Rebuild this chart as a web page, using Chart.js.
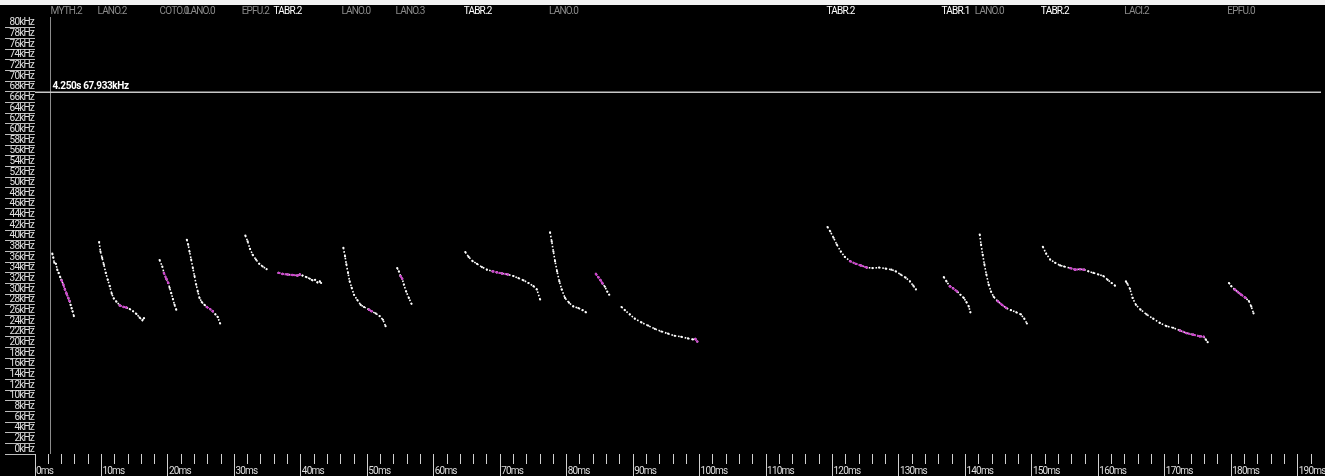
<!DOCTYPE html>
<html lang="en">
<head>
    <meta charset="UTF-8">
    <title>Bat call sequence</title>
    <script src="https://cdn.jsdelivr.net/npm/chart.js"></script>
    <style>
        html, body { margin: 0; padding: 0; background: #000; overflow: hidden; }
        #wrap { width: 1325px; height: 476px; }
    </style>
</head>
<body>
<div id="wrap"><canvas id="callChart"></canvas></div>
<script>
    // each call: time (ms) and frequency (kHz)
    const t1 = [2.6, 2.75, 2.9, 3.15, 3.35, 3.55, 3.8, 4.0, 4.25, 4.5, 4.75, 5.0, 5.2, 5.35, 5.5, 5.65, 5.85];
    const f1 = [37.6, 36.9, 35.9, 35.7, 34.6, 34.0, 33.2, 32.6, 31.8, 30.9, 30.1, 29.3, 28.7, 28.0, 27.4, 26.8, 25.9];
    const t2 = [9.65, 9.85, 10.1, 10.35, 10.65, 10.95, 11.25, 11.55, 11.85, 12.25, 12.75, 13.35, 13.75, 14.25, 14.75, 15.25, 15.75, 16.15, 16.4];
    const f2 = [39.8, 38.0, 36.8, 35.6, 34.0, 32.7, 31.5, 30.1, 29.2, 28.6, 27.9, 27.6, 27.5, 27.2, 26.8, 26.3, 25.6, 25.1, 25.5];
    const t3 = [18.75, 19.15, 19.4, 19.75, 20.05, 20.25, 20.5, 20.75, 21.0, 21.25];
    const f3 = [36.4, 35.2, 34.0, 32.9, 32.1, 31.2, 30.2, 29.1, 28.0, 27.1];
    const t4 = [22.85, 23.05, 23.25, 23.5, 23.75, 24.0, 24.25, 24.5, 24.75, 25.1, 25.5, 25.85, 26.35, 26.75, 27.15, 27.5, 27.85];
    const f4 = [40.2, 39.3, 38.0, 36.5, 34.9, 33.4, 31.8, 30.5, 29.3, 28.5, 28.0, 27.6, 27.2, 26.8, 26.2, 25.7, 24.5];
    const t5 = [31.65, 32.0, 32.35, 32.75, 33.25, 33.75, 34.25, 34.85];
    const f5 = [41.0, 39.9, 38.5, 37.4, 36.5, 35.7, 35.2, 34.7];
    const t6 = [36.65, 37.25, 38.0, 38.75, 39.5, 39.85, 40.25, 40.85, 41.35, 41.75, 42.15, 42.5, 42.85, 43.05];
    const f6 = [34.0, 33.8, 33.7, 33.6, 33.5, 33.7, 33.5, 33.2, 32.9, 32.6, 32.7, 32.2, 32.4, 32.1];
    const t7 = [46.4, 46.65, 46.85, 47.1, 47.35, 47.65, 48.0, 48.5, 49.0, 49.5, 50.25, 50.65, 51.25, 51.85, 52.35, 52.75];
    const f7 = [38.7, 37.1, 35.6, 34.0, 32.4, 31.2, 29.9, 28.9, 28.0, 27.6, 27.1, 26.8, 26.4, 25.9, 25.2, 24.0];
    const t8 = [54.5, 54.75, 55.0, 55.25, 55.5, 55.85, 56.25, 56.65];
    const f8 = [34.9, 34.3, 33.4, 32.9, 31.8, 30.5, 29.3, 28.2];
    const t9 = [64.75, 65.25, 65.85, 66.5, 67.25, 68.0, 68.85, 69.5, 70.25, 71.15, 72.0, 72.75, 73.5, 74.25, 75.0, 75.5, 76.0];
    const f9 = [37.9, 37.0, 36.2, 35.7, 35.1, 34.6, 34.3, 34.1, 33.9, 33.7, 33.4, 33.0, 32.6, 32.1, 31.5, 30.9, 29.0];
    const t10 = [77.5, 77.75, 78.0, 78.25, 78.55, 78.9, 79.25, 79.75, 80.35, 81.0, 81.75, 82.4, 82.9];
    const f10 = [41.6, 39.9, 38.0, 36.2, 34.3, 32.4, 30.9, 29.3, 28.4, 27.7, 27.4, 27.0, 26.6];
    const t11 = [84.4, 84.75, 85.1, 85.4, 85.75, 86.1, 86.4];
    const f11 = [33.8, 33.2, 32.6, 32.0, 31.4, 30.5, 29.9];
    const t12 = [88.25, 88.75, 89.5, 90.25, 91.25, 92.25, 93.25, 94.25, 95.25, 96.25, 97.25, 98.25, 99.0, 99.35, 99.65];
    const f12 = [27.6, 27.0, 26.2, 25.4, 24.7, 24.1, 23.5, 23.0, 22.6, 22.2, 22.0, 21.7, 21.5, 21.6, 21.1];
    const t13 = [119.25, 119.65, 120.15, 120.65, 121.25, 121.85, 122.65, 123.5, 124.25, 125.15, 126.0, 127.0, 128.0, 128.85, 129.5, 130.25, 131.0, 131.65, 132.15, 132.55];
    const f13 = [42.6, 41.8, 40.6, 39.3, 38.0, 37.0, 36.2, 35.7, 35.4, 35.0, 34.9, 35.0, 34.8, 34.6, 34.3, 33.7, 33.1, 32.4, 31.6, 30.9];
    const t14 = [136.75, 137.15, 137.65, 138.15, 138.75, 139.25, 139.75, 140.15, 140.5, 140.75];
    const f14 = [33.2, 32.4, 31.5, 31.1, 30.5, 29.9, 29.3, 28.5, 27.7, 26.6];
    const t15 = [142.15, 142.35, 142.6, 142.85, 143.15, 143.5, 143.85, 144.25, 144.85, 145.5, 146.15, 146.85, 147.65, 148.35, 148.85, 149.25];
    const f15 = [41.2, 39.3, 37.4, 35.6, 33.7, 31.8, 30.5, 29.5, 28.7, 28.0, 27.4, 27.0, 26.6, 26.2, 25.4, 24.5];
    const t16 = [151.65, 152.15, 152.75, 153.5, 154.25, 154.85, 155.75, 156.5, 157.25, 157.85, 158.5, 159.25, 160.0, 160.75, 161.4, 162.0, 162.5];
    const f16 = [38.9, 37.6, 36.5, 35.9, 35.4, 35.2, 34.9, 34.6, 34.7, 34.6, 34.3, 34.0, 33.7, 33.4, 32.7, 32.1, 31.6];
    const t17 = [164.15, 164.35, 164.75, 165.15, 165.65, 166.35, 167.25, 168.25, 169.25, 170.25, 171.25, 172.25, 173.25, 174.25, 175.25, 175.85, 176.15, 176.45];
    const f17 = [32.4, 32.0, 31.0, 29.3, 28.0, 27.1, 26.2, 25.4, 24.6, 24.0, 23.7, 23.2, 22.7, 22.4, 22.1, 22.0, 21.5, 21.0];
    const t18 = [179.65, 180.0, 180.5, 181.0, 181.5, 182.15, 182.65, 183.0, 183.35];
    const f18 = [32.1, 31.5, 30.9, 30.4, 29.9, 29.3, 28.7, 27.7, 26.4];

    // index range of each call that is highlighted (null = none)
    const highlight = [[7, 12], [10, 12], [2, 4], [11, 13], null, [0, 5], [10, 11], [2, 3], [6, 9],
                       null, [0, 3], [13, 14], [6, 9], [2, 4], [8, 10], [6, 9], [11, 15], [2, 5]];

    // species labels along the top
    const labelTimes = [2.35, 9.4, 18.75, 22.7, 31.1, 35.9, 46.1, 54.25, 64.5, 77.35, 119.1, 136.4, 141.4, 151.35, 163.9, 179.4];
    const labelNames = ['MYTH.2', 'LANO.2', 'COTO.0', 'LANO.0', 'EPFU.2', 'TABR.2', 'LANO.0', 'LANO.3', 'TABR.2', 'LANO.0',
                        'TABR.2', 'TABR.1', 'LANO.0', 'TABR.2', 'LACI.2', 'EPFU.0'];

    // cursor readout
    const cursorKHz = 67.933;
    const cursorText = '4.250s 67.933kHz';
    const axisLineMs = 2.25;

    const calls = [[t1, f1], [t2, f2], [t3, f3], [t4, f4], [t5, f5], [t6, f6], [t7, f7], [t8, f8], [t9, f9],
                   [t10, f10], [t11, f11], [t12, f12], [t13, f13], [t14, f14], [t15, f15], [t16, f16], [t17, f17], [t18, f18]];

    const FONT = 'Roboto';
    const datasets = [];
    calls.forEach(([ts, fs], i) => {
        const pts = ts.map((t, j) => ({ x: t, y: fs[j] }));
        datasets.push({
            data: pts, order: 2, showLine: true,
            borderColor: '#ffffff', borderWidth: 1.6, borderDash: [1.6, 1.8],
            pointRadius: 1.1, pointBackgroundColor: '#ffffff', pointBorderWidth: 0
        });
        const span = highlight[i];
        if (span) {
            datasets.push({
                data: pts.slice(span[0], span[1] + 1), order: 1, showLine: true,
                borderColor: '#cc44cc', borderWidth: 2, borderDash: [2, 1],
                pointRadius: 1.2, pointBackgroundColor: '#cc44cc', pointBorderWidth: 0
            });
        }
    });

    const overlay = {
        id: 'overlay',
        beforeDraw(chart) {
            const { ctx, width, height } = chart;
            ctx.save();
            ctx.fillStyle = '#000';
            ctx.fillRect(0, 0, width, height);
            ctx.fillStyle = '#f2f2f2';
            ctx.fillRect(0, 0, width, 5);
            ctx.restore();
            // the sonogram font is narrow, tighten everything a bit
            ctx.letterSpacing = '-0.8px';
        },
        afterDraw(chart) {
            const { ctx, chartArea, scales: { x, y } } = chart;
            ctx.save();
            const ax = Math.round(x.getPixelForValue(axisLineMs)) + 0.5;
            ctx.strokeStyle = '#8c8c8c';
            ctx.lineWidth = 1;
            ctx.beginPath();
            ctx.moveTo(ax, chartArea.top + 3);
            ctx.lineTo(ax, chartArea.bottom);
            ctx.stroke();

            const cy = y.getPixelForValue(cursorKHz);
            ctx.strokeStyle = '#c8c8c8';
            ctx.lineWidth = 1.5;
            ctx.beginPath();
            ctx.moveTo(chartArea.left, cy);
            ctx.lineTo(chartArea.right, cy);
            ctx.stroke();

            ctx.fillStyle = '#ffffff';
            ctx.font = 'bold 10px ' + FONT;
            ctx.letterSpacing = '-0.4px';
            ctx.textBaseline = 'bottom';
            ctx.fillText(cursorText, ax + 2, cy - 1);

            ctx.font = '10px ' + FONT;
            ctx.letterSpacing = '-0.8px';
            ctx.textBaseline = 'middle';
            labelNames.forEach((name, i) => {
                ctx.fillStyle = name.startsWith('TABR') ? '#ffffff' : '#8a8a8a';
                ctx.fillText(name, x.getPixelForValue(labelTimes[i]), 11);
            });
            ctx.restore();
        }
    };

    new Chart(document.getElementById('callChart'), {
        type: 'scatter',
        data: { datasets },
        plugins: [overlay],
        options: {
            responsive: true,
            maintainAspectRatio: false,
            animation: false,
            layout: { padding: { top: 14, left: 0, right: 0, bottom: 0 } },
            plugins: { legend: { display: false }, tooltip: { enabled: false } },
            scales: {
                x: {
                    type: 'linear', min: 0, max: 193.5,
                    border: { display: false },
                    grid: {
                        drawOnChartArea: false, tickLength: 22, tickColor: '#d0d0d0', tickWidth: 1,
                        tickBorderDash: c => (c.tick && Math.round(c.tick.value) % 10 === 0) ? [] : [10, 40]
                    },
                    ticks: {
                        stepSize: 2, includeBounds: false, autoSkip: false, maxRotation: 0, minRotation: 0,
                        align: 'start', labelOffset: 1, padding: -11, color: '#dddddd',
                        font: { family: FONT, size: 10 },
                        callback: v => Math.round(v) % 10 === 0 ? Math.round(v) + 'ms' : ''
                    },
                    afterFit: s => { s.height = 22; }
                },
                y: {
                    min: 0, max: 82.6,
                    border: { display: false },
                    grid: { drawOnChartArea: false, tickLength: 30, tickColor: '#bdbdbd' },
                    ticks: {
                        stepSize: 2, includeBounds: false, autoSkip: false, padding: -29, labelOffset: -5,
                        color: '#e0e0e0', font: { family: FONT, size: 10 },
                        callback: v => Math.round(v) + 'kHz'
                    },
                    afterBuildTicks: s => { s.ticks = s.ticks.filter(t => t.value <= 80); },
                    afterFit: s => { s.width = 35; }
                }
            }
        }
    });
</script>
</body>
</html>
